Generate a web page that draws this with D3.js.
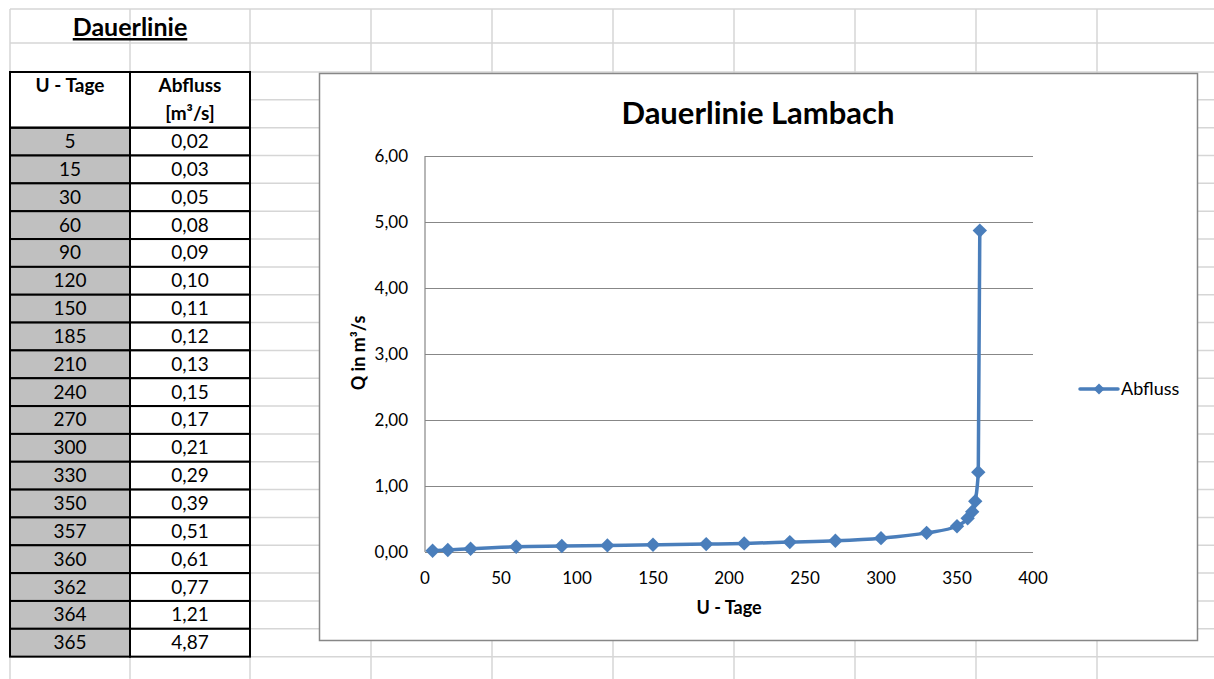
<!DOCTYPE html>
<html>
<head>
<meta charset="utf-8">
<script src="https://cdn.jsdelivr.net/npm/d3@7"></script>
<style>
  body { margin: 0; background: #fff; }
  svg { display: block; font-family: Lato, "Noto Sans", sans-serif; }
</style>
</head>
<body>
<div id="sheet"></div>
<script>
'use strict';

var days = [5, 15, 30, 60, 90, 120, 150, 185, 210, 240, 270, 300, 330, 350, 357, 360, 362, 364, 365];
var abfluss = [0.02, 0.03, 0.05, 0.08, 0.09, 0.10, 0.11, 0.12, 0.13, 0.15, 0.17, 0.21, 0.29, 0.39, 0.51, 0.61, 0.77, 1.21, 4.87];
var xTicks = [0, 50, 100, 150, 200, 250, 300, 350, 400];
var yTicks = [0, 1, 2, 3, 4, 5, 6];

var width = 1214,
  height = 679,
  blue = '#4a7ebb',
  sheetGrid = '#d6d6d6',
  chartGrid = '#878787';

var de = d3.formatLocale({decimal: ',', thousands: '.', grouping: [3], currency: ['', ' €']});
var fmt2 = de.format('.2f');

var data = days.map(function (d, i) { return {day: d, q: abfluss[i]}; });

var svg = d3.select('#sheet').append('svg')
  .attr('width', width)
  .attr('height', height);

// Spreadsheet grid
var colX = [10, 130, 250, 371, 492, 613, 734, 855, 976, 1097, 1218];
var rowY = [9, 43];
for (var k = 0; k < 23; k++) { rowY.push(72 + k * 27.84); }

var grid = svg.append('g').attr('class', 'sheetGrid');
grid.selectAll('line.v').data(colX).enter().append('line')
  .attr('x1', function (d) { return d; }).attr('x2', function (d) { return d; })
  .attr('y1', 9).attr('y2', height)
  .style('stroke', sheetGrid).style('stroke-width', 1.5);
grid.selectAll('line.h').data(rowY).enter().append('line')
  .attr('x1', 10).attr('x2', width)
  .attr('y1', function (d) { return d; }).attr('y2', function (d) { return d; })
  .style('stroke', sheetGrid).style('stroke-width', 1.5);

// Sheet title
svg.append('text')
  .attr('x', 130).attr('y', 36)
  .attr('text-anchor', 'middle')
  .style('font-size', '25px').style('font-weight', 'bold')
  .style('text-decoration', 'underline')
  .text('Dauerlinie');

// Table
var table = svg.append('g').attr('class', 'table');
var top0 = 72, rowH = 27.84, dataTop = top0 + 2 * rowH, cellFont = '19px';

table.append('rect')
  .attr('x', 10).attr('y', top0).attr('width', 240).attr('height', 2 * rowH)
  .style('fill', '#fff');

var rows = table.selectAll('g.row').data(data).enter().append('g')
  .attr('transform', function (d, i) { return 'translate(0,' + (dataTop + i * rowH) + ')'; });

rows.append('rect')
  .attr('x', 10).attr('width', 120).attr('height', rowH)
  .style('fill', '#c0c0c0').style('stroke', '#000').style('stroke-width', 2);
rows.append('rect')
  .attr('x', 130).attr('width', 120).attr('height', rowH)
  .style('fill', '#fff').style('stroke', '#000').style('stroke-width', 2);
rows.append('text')
  .attr('x', 70).attr('y', rowH / 2 + 6.5)
  .attr('text-anchor', 'middle').style('font-size', cellFont)
  .text(function (d) { return d.day; });
rows.append('text')
  .attr('x', 190).attr('y', rowH / 2 + 6.5)
  .attr('text-anchor', 'middle').style('font-size', cellFont)
  .text(function (d) { return fmt2(d.q); });

table.append('rect')
  .attr('x', 10).attr('y', top0).attr('width', 120).attr('height', 2 * rowH)
  .style('fill', 'none').style('stroke', '#000').style('stroke-width', 2);
table.append('rect')
  .attr('x', 130).attr('y', top0).attr('width', 120).attr('height', 2 * rowH)
  .style('fill', 'none').style('stroke', '#000').style('stroke-width', 2);
table.append('text')
  .attr('x', 70).attr('y', top0 + rowH / 2 + 6.5)
  .attr('text-anchor', 'middle').style('font-size', cellFont).style('font-weight', 'bold')
  .text('U - Tage');
table.append('text')
  .attr('x', 190).attr('y', top0 + rowH / 2 + 6.5)
  .attr('text-anchor', 'middle').style('font-size', cellFont).style('font-weight', 'bold')
  .text('Abfluss');
table.append('text')
  .attr('x', 190).attr('y', top0 + rowH * 1.5 + 6.5)
  .attr('text-anchor', 'middle').style('font-size', cellFont).style('font-weight', 'bold')
  .text('[m³/s]');

// Chart object
var chart = svg.append('g').attr('class', 'chart');
chart.append('rect')
  .attr('x', 319.5).attr('y', 73.5).attr('width', 878).attr('height', 567)
  .style('fill', '#fff').style('stroke', chartGrid).style('stroke-width', 1.5);

chart.append('text')
  .attr('x', 758).attr('y', 124)
  .attr('text-anchor', 'middle')
  .style('font-size', '31px').style('font-weight', 'bold')
  .text('Dauerlinie Lambach');

var x = d3.scaleLinear().domain([0, 400]).range([425, 1033]);
var y = d3.scaleLinear().domain([0, 6]).range([552, 156]);

// Horizontal gridlines
chart.append('g')
  .attr('transform', 'translate(425,0)')
  .call(d3.axisLeft(y).tickValues(yTicks).tickSize(-(x.range()[1] - x.range()[0])).tickFormat(''))
  .call(function (g) { g.select('.domain').remove(); })
  .selectAll('line').style('stroke', chartGrid).style('stroke-width', 1.2);

// Value axis line
chart.append('line')
  .attr('x1', 425).attr('x2', 425).attr('y1', y(6)).attr('y2', y(0))
  .style('stroke', chartGrid).style('stroke-width', 1.2);

// Y labels
chart.append('g').selectAll('text').data(yTicks).enter().append('text')
  .attr('x', 408).attr('y', function (d) { return y(d) + 6; })
  .attr('text-anchor', 'end').style('font-size', '17px')
  .text(function (d) { return fmt2(d); });

// X labels
chart.append('g').selectAll('text').data(xTicks).enter().append('text')
  .attr('x', function (d) { return x(d); }).attr('y', 584)
  .attr('text-anchor', 'middle').style('font-size', '17px')
  .text(String);

// Axis titles
chart.append('text')
  .attr('x', 729).attr('y', 614)
  .attr('text-anchor', 'middle')
  .style('font-size', '18px').style('font-weight', 'bold')
  .text('U - Tage');
chart.append('text')
  .attr('transform', 'translate(365,353) rotate(-90)')
  .attr('text-anchor', 'middle')
  .style('font-size', '18px').style('font-weight', 'bold')
  .text('Q in m³/s');

// Series line
var line = d3.line()
  .x(function (d) { return x(d.day); })
  .y(function (d) { return y(d.q); })
  .curve(d3.curveMonotoneX);

chart.append('path')
  .datum(data)
  .attr('d', line)
  .style('fill', 'none').style('stroke', blue)
  .style('stroke-width', 3.5).style('stroke-linejoin', 'round');

function diamond(r) {
  return 'M0,' + (-r) + 'L' + r + ',0L0,' + r + 'L' + (-r) + ',0Z';
}

chart.append('g').selectAll('path').data(data).enter().append('path')
  .attr('transform', function (d) { return 'translate(' + x(d.day) + ',' + y(d.q) + ')'; })
  .attr('d', diamond(7.2))
  .style('fill', blue);

// Legend
var legend = chart.append('g').attr('transform', 'translate(1080,389)');
legend.append('line')
  .attr('x1', 0).attr('x2', 38)
  .style('stroke', blue).style('stroke-width', 3.5).style('stroke-linecap', 'round');
legend.append('path')
  .attr('transform', 'translate(19,0)')
  .attr('d', diamond(5.5))
  .style('fill', blue);
legend.append('text')
  .attr('x', 41).attr('y', 6)
  .style('font-size', '18px')
  .text('Abfluss');
</script>
</body>
</html>
